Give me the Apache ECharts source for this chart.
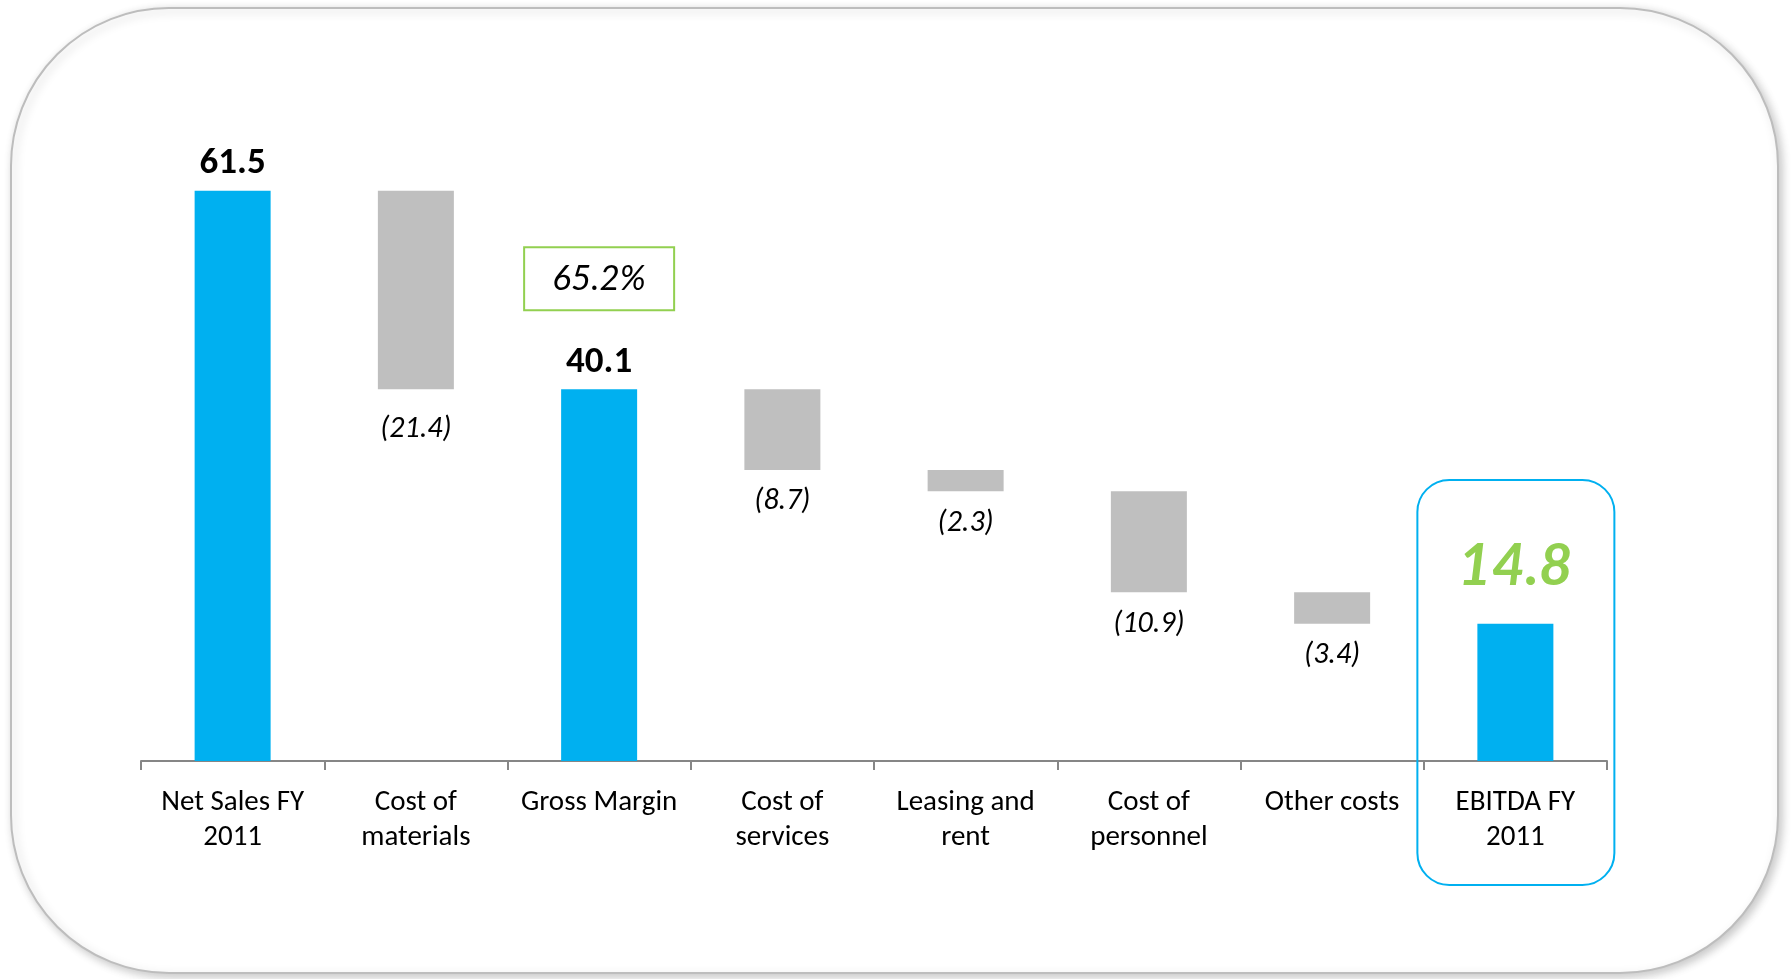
<!DOCTYPE html>
<html><head><meta charset="utf-8">
<script src="https://cdn.jsdelivr.net/npm/echarts@6/dist/echarts.min.js"></script>
<style>html,body{margin:0;padding:0;background:#fff}#c{width:1791px;height:979px}</style>
</head><body><div id="c"></div>
<script>
// ---- data ----
const categories = ['Net Sales FY\n2011', 'Cost of\nmaterials', 'Gross Margin', 'Cost of\nservices', 'Leasing and\nrent', 'Cost of\npersonnel', 'Other costs', 'EBITDA FY\n2011'];
const changes = [61.5, -21.4, 40.1, -8.7, -2.3, -10.9, -3.4, 14.8];
const isTotal = [true, false, true, false, false, false, false, true];
const marginText = '65.2%';

// ---- derived waterfall pieces ----
const baseVals = [], barVals = [];
let running = 0;
changes.forEach((v, i) => {
  if (isTotal[i]) { running = v; baseVals.push(0); barVals.push(v); }
  else { running += v; baseVals.push(+running.toFixed(1)); barVals.push(Math.abs(v)); }
});

const CAL = 'Carlito, Lato, sans-serif';
const NAR = '"Liberation Sans Narrow", "Arial Narrow", Lato, sans-serif';
const BLUE = '#00B0F0', GRAY = '#BFBFBF', GREEN = '#92D050';

const barData = barVals.map((v, i) => {
  const item = { value: v, itemStyle: { color: isTotal[i] ? BLUE : GRAY } };
  if (isTotal[i]) {
    item.label = { show: true, position: 'top', distance: 9, fontFamily: CAL, fontWeight: 'bold', fontSize: 37, lineHeight: 37, color: '#000',
      formatter: changes[i].toFixed(1) };
  } else {
    item.label = { show: true, position: 'bottom', distance: i === 1 ? 24 : 16, fontFamily: CAL, fontStyle: 'italic', fontSize: 30, lineHeight: 32, color: '#000',
      formatter: '(' + Math.abs(changes[i]).toFixed(1) + ')' };
  }
  return item;
});
// gross margin with percentage box
barData[2].label = {
  show: true, position: 'top', distance: 8,
  formatter: '{box|' + marginText + '}\n{gap| }\n{v|' + changes[2].toFixed(1) + '}',
  rich: {
    box: { width: 150, height: 63, lineHeight: 63, borderColor: GREEN, borderWidth: 2, align: 'center', fontFamily: NAR, fontStyle: 'italic', fontSize: 35, color: '#000' },
    gap: { fontSize: 10, lineHeight: 34 },
    v: { fontFamily: CAL, fontWeight: 'bold', fontSize: 37, lineHeight: 37, color: '#000', align: 'center' }
  }
};
// EBITDA highlighted label
barData[7].label = { show: true, position: 'top', distance: 28, fontFamily: NAR, fontWeight: 'bold', fontStyle: 'italic', fontSize: 58, lineHeight: 58, color: GREEN,
  formatter: changes[7].toFixed(1) };

const chart = echarts.init(document.getElementById('c'), null, { renderer: 'canvas' });
chart.setOption({
  animation: false,
  backgroundColor: '#fff',
  grid: { left: 141, right: 184, top: 112, bottom: 218, containLabel: false },
  xAxis: {
    type: 'category', data: categories,
    axisLine: { lineStyle: { color: '#868686', width: 2 } },
    axisTick: { show: true, length: 9, lineStyle: { color: '#868686', width: 2 } },
    axisLabel: { fontFamily: CAL, fontSize: 29, lineHeight: 35, color: '#000', margin: 24, interval: 0 }
  },
  yAxis: { type: 'value', min: 0, max: 70, show: false, splitLine: { show: false } },
  series: [
    { type: 'bar', stack: 'w', data: baseVals, barWidth: 76, itemStyle: { color: 'transparent' }, silent: true },
    { type: 'bar', stack: 'w', data: barData, barWidth: 76 }
  ]
});

// decorations: outer rounded frame and EBITDA highlight box
const cx = chart.convertToPixel({ xAxisIndex: 0 }, categories[7]);
chart.setOption({
  graphic: [
    { type: 'rect', z: -100, silent: true,
      shape: { x: 11, y: 8, width: 1767, height: 965, r: 158 },
      style: { fill: '#fff', stroke: '#BDBDBD', lineWidth: 2, shadowBlur: 10, shadowColor: 'rgba(0,0,0,0.22)', shadowOffsetX: 3, shadowOffsetY: 3 } },
    { type: 'rect', z: 100, silent: true,
      shape: { x: cx - 98, y: 480, width: 197, height: 405, r: 32 },
      style: { fill: 'none', stroke: BLUE, lineWidth: 2 } }
  ]
});
</script></body></html>
